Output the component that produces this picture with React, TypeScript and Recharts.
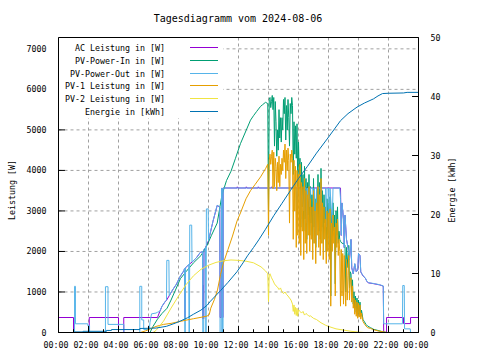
import React from "react";
import { LineChart, Line, XAxis, YAxis, CartesianGrid, ReferenceLine } from "recharts";

type Pt = [number, number];

const FONT = "'DejaVu Sans Mono', monospace";

const title = "Tagesdiagramm vom 2024-08-06";
const hourTicks = [0, 2, 4, 6, 8, 10, 12, 14, 16, 18, 20, 22, 24];
const hourMinor = [1, 3, 5, 7, 9, 11, 13, 15, 17, 19, 21, 23];
const powerTicks = [0, 1000, 2000, 3000, 4000, 5000, 6000, 7000];
const energyTicks = [0, 10, 20, 30, 40, 50];

// [hour, W]
const acPower: Pt[] = [
  [0, 370], [1.0, 370], [1.0, 0], [2.05, 0], [2.05, 370], [4.0, 370], [4.0, 0], [4.35, 0], [4.35, 370],
  [6.6, 370], [6.75, 515], [6.9, 645], [7.1, 755], [7.2, 795], [7.38, 905], [7.6, 1045], [7.87, 1195],
  [8.1, 1375], [8.36, 1525], [8.4, 1575], [8.42, 370], [8.45, 370], [8.47, 1595], [8.68, 1675], [8.9, 1735],
  [9.2, 1845], [9.45, 1975], [9.6, 1995], [9.62, 340], [9.65, 1170], [9.68, 340], [9.7, 2045], [9.8, 2095],
  [10.0, 2265], [10.3, 2745], [10.58, 3135], [10.75, 3095], [10.77, 370], [10.85, 370], [10.87, 3555],
  [10.92, 3555], [10.93, 370], [10.97, 370], [10.98, 3566], [11.9, 3566], [11.92, 3595], [11.96, 3566],
  [12.5, 3566], [12.52, 3595], [12.56, 3566], [13.3, 3566], [13.32, 3595], [13.36, 3566], [14.2, 3566],
  [14.22, 3595], [14.26, 3566], [18.8, 3566], [18.85, 2395], [18.9, 3195],
  [19.0, 2795], [19.05, 2095], [19.1, 2895], [19.2, 2295], [19.3, 2095], [19.4, 1795], [19.5, 2295],
  [19.55, 1595], [19.65, 1445], [19.75, 1695], [19.85, 1495], [19.95, 1545], [20.0, 1945], [20.1, 1895],
  [20.15, 1495], [20.3, 1395], [20.45, 1345], [20.55, 1265], [20.65, 1225], [21.0, 1205], [21.4, 1175],
  [21.65, 1145], [21.68, 0], [21.87, 0], [21.87, 370], [23.0, 370], [23.0, 220], [23.47, 220], [23.47, 370],
  [24, 370],
];

const pvPowerIn: Pt[] = [
  [0, 0], [6.1, 0], [6.3, 150], [6.6, 330], [6.9, 470], [7.24, 600], [7.5, 800], [7.8, 1050], [8.13, 1330],
  [8.5, 1500], [9.0, 1720], [9.5, 1900], [9.9, 2150], [10.2, 2400], [10.58, 2700], [10.9, 3400], [11.2, 3750],
  [11.5, 3980], [11.8, 4300], [12.13, 4660], [12.5, 4980], [12.8, 5240], [13.0, 5350], [13.2, 5450],
  [13.47, 5580], [13.6, 5620], [13.8, 5680], [13.95, 5650], [14.0, 3000], [14.05, 5750], [14.1, 5800],
  [14.15, 5550], [14.2, 5700], [14.25, 5850], [14.3, 5500], [14.35, 5800], [14.4, 4600], [14.45, 5700],
  [14.5, 5200], [14.55, 4350], [14.6, 5000], [14.65, 4500], [14.7, 5500], [14.75, 4800], [14.8, 5300],
  [14.85, 4700], [14.9, 5300], [14.95, 5000], [15.0, 5750], [15.05, 5400], [15.1, 5800], [15.15, 4750],
  [15.2, 5600], [15.25, 5000], [15.3, 5750], [15.35, 5300], [15.4, 4600], [15.45, 5650], [15.5, 5400],
  [15.55, 5800], [15.6, 5600], [15.65, 3900], [15.7, 5200], [15.75, 4400], [15.8, 5100], [15.85, 4300],
  [15.9, 5150], [15.95, 3600], [16.0, 4700], [16.05, 3900], [16.1, 4300], [16.15, 2600], [16.2, 4200],
  [16.25, 3100], [16.3, 3900], [16.35, 2500], [16.4, 4100], [16.45, 2800], [16.5, 3800], [16.55, 2300],
  [16.6, 3700], [16.65, 2900], [16.7, 3900], [16.75, 2400], [16.8, 3600], [16.85, 2700], [16.9, 3400],
  [16.95, 2200], [17.0, 3800], [17.05, 2600], [17.1, 3300], [17.15, 2100], [17.2, 3500], [17.25, 2800],
  [17.3, 3900], [17.35, 2500], [17.4, 3700], [17.45, 2300], [17.5, 4050], [17.55, 2600], [17.6, 3500],
  [17.65, 2200], [17.7, 3400], [17.75, 2700], [17.8, 3100], [17.85, 2000], [17.9, 3300], [17.95, 2400],
  [18.0, 3200], [18.05, 2100], [18.1, 3350], [18.15, 900], [18.2, 3000], [18.25, 2300], [18.3, 3200],
  [18.35, 2500], [18.4, 2900], [18.45, 1200], [18.5, 3000], [18.55, 2400], [18.6, 3100], [18.65, 2200],
  [18.7, 2500], [18.75, 2300], [18.8, 2250], [18.9, 2200], [19.0, 2200], [19.1, 2150], [19.15, 1000],
  [19.2, 2100], [19.3, 1600], [19.35, 2150], [19.4, 1100], [19.45, 1500], [19.5, 1450], [19.55, 1000],
  [19.6, 1300], [19.65, 700], [19.7, 1000], [19.75, 600], [19.8, 900], [19.85, 500], [19.9, 850],
  [19.95, 450], [20.0, 800], [20.05, 450], [20.1, 750], [20.15, 400], [20.2, 550], [20.3, 320], [20.4, 260],
  [20.5, 200], [20.6, 160], [20.8, 120], [21.0, 80], [21.3, 50], [21.6, 20], [21.9, 0], [24, 0],
];

const pvPowerOut: Pt[] = [
  [0, 0], [1.07, 0], [1.07, 1140], [1.13, 1140], [1.13, 215], [1.95, 215], [1.95, 170], [2.07, 170], [2.07, 0],
  [3.13, 0], [3.13, 1130], [3.3, 1130], [3.3, 200], [4.36, 200], [4.36, 0], [5.42, 0], [5.42, 1140],
  [5.55, 1140], [5.55, 310], [5.68, 310], [5.68, 75], [6.05, 75], [6.1, 250], [6.2, 460], [6.5, 480],
  [6.6, 500], [6.75, 520], [6.9, 650], [7.1, 760], [7.2, 800], [7.22, 1780], [7.36, 1780], [7.38, 910],
  [7.6, 1050], [7.87, 1200], [8.1, 1380], [8.36, 1530], [8.4, 1580], [8.42, 0], [8.45, 0], [8.47, 1600],
  [8.68, 1680], [8.7, 0], [8.73, 0], [8.75, 2650], [8.88, 2650], [8.9, 1740], [9.2, 1850], [9.45, 1980],
  [9.6, 2000], [9.62, 0], [9.68, 0], [9.7, 2050], [9.8, 2100], [9.82, 0], [9.84, 0], [9.86, 3050],
  [9.98, 3050], [10.0, 2270], [10.3, 2750], [10.58, 3140], [10.75, 3100], [10.77, 0], [10.85, 0],
  [10.87, 3560], [10.92, 3560], [10.93, 0], [10.97, 0], [10.98, 3566], [15.85, 3566], [15.9, 2900],
  [15.95, 3566], [16.1, 3566], [16.15, 2800], [16.2, 3566], [16.35, 3000], [16.4, 3566], [16.5, 3566],
  [16.55, 2700], [16.6, 3566], [16.75, 3100], [16.8, 3566], [16.95, 3566], [17.0, 3200], [17.05, 3566],
  [17.15, 2200], [17.2, 3566], [17.45, 3566], [17.5, 2500], [17.55, 3566], [17.8, 3566], [17.85, 2600],
  [17.9, 3566], [18.0, 3566], [18.05, 2200], [18.1, 3566], [18.25, 2700], [18.3, 3566], [18.75, 3566],
  [18.8, 3300], [18.85, 2400], [18.9, 3200], [19.0, 2800], [19.05, 2100], [19.1, 2900], [19.2, 2300],
  [19.3, 2100], [19.4, 1800], [19.5, 2300], [19.55, 1600], [19.65, 1450], [19.75, 1700], [19.85, 1500],
  [19.95, 1550], [20.0, 1950], [20.1, 1900], [20.15, 1500], [20.3, 1400], [20.45, 1350], [20.55, 1270],
  [20.65, 1230], [21.0, 1210], [21.4, 1180], [21.65, 1150], [21.68, 215], [22.93, 215], [22.95, 1160],
  [23.05, 1160], [23.07, 90], [23.45, 90], [23.47, 0], [24, 0],
];

const pv1Power: Pt[] = [
  [0, 0], [5.45, 0], [5.8, 40], [6.13, 90], [6.5, 150], [7.0, 200], [7.5, 225], [8.0, 265], [8.5, 305],
  [9.0, 340], [9.5, 375], [9.9, 405], [10.05, 440], [10.15, 600], [10.4, 820], [10.6, 1050], [10.8, 1430],
  [11.0, 1720], [11.3, 2050], [11.6, 2380], [11.9, 2750], [12.13, 2950], [12.5, 3300], [12.8, 3500],
  [13.1, 3650], [13.47, 3840], [13.8, 4040], [13.95, 4150], [14.0, 2400], [14.05, 4250], [14.1, 4400],
  [14.15, 4150], [14.2, 4350], [14.25, 4500], [14.3, 3550], [14.35, 4450], [14.4, 3600], [14.45, 4300],
  [14.5, 4100], [14.55, 3500], [14.6, 4200], [14.65, 3700], [14.7, 4350], [14.75, 3600], [14.8, 4150],
  [14.85, 3900], [14.9, 4300], [14.95, 4000], [15.0, 4500], [15.05, 4200], [15.1, 4650], [15.15, 3800],
  [15.2, 4500], [15.25, 4000], [15.3, 4550], [15.35, 4250], [15.4, 2700], [15.45, 4400], [15.5, 4200],
  [15.55, 4500], [15.6, 4300], [15.65, 2300], [15.7, 4250], [15.75, 3000], [15.8, 4100], [15.85, 2100],
  [15.9, 4000], [15.95, 2400], [16.0, 3900], [16.05, 2200], [16.1, 4150], [16.15, 1900], [16.2, 3700],
  [16.25, 2500], [16.3, 3600], [16.35, 1800], [16.4, 3800], [16.45, 2200], [16.5, 3500], [16.55, 1950],
  [16.6, 3400], [16.65, 2400], [16.7, 3600], [16.75, 2000], [16.8, 3300], [16.85, 2300], [16.9, 3100],
  [16.95, 1800], [17.0, 3500], [17.05, 2200], [17.1, 3000], [17.15, 1700], [17.2, 3200], [17.25, 2400],
  [17.3, 3600], [17.35, 2100], [17.4, 3400], [17.45, 1900], [17.5, 3800], [17.55, 2200], [17.6, 3200],
  [17.65, 1800], [17.7, 3100], [17.75, 2300], [17.8, 2800], [17.85, 1700], [17.9, 3000], [17.95, 2000],
  [18.0, 2950], [18.05, 1800], [18.1, 3050], [18.15, 650], [18.2, 2700], [18.25, 2000], [18.3, 2900],
  [18.35, 2200], [18.4, 2600], [18.45, 900], [18.5, 2700], [18.55, 2100], [18.6, 2800], [18.65, 1900],
  [18.7, 2300], [18.75, 2000], [18.8, 650], [18.85, 2050], [18.9, 900], [18.95, 1950], [19.0, 700],
  [19.05, 1900], [19.1, 1100], [19.15, 650], [19.2, 1800], [19.25, 800], [19.3, 1400], [19.35, 1900],
  [19.4, 800], [19.45, 1300], [19.5, 1350], [19.55, 750], [19.6, 1150], [19.65, 600], [19.7, 850],
  [19.75, 450], [19.8, 800], [19.85, 400], [19.9, 750], [19.95, 350], [20.0, 720], [20.05, 380],
  [20.1, 680], [20.15, 330], [20.2, 480], [20.3, 270], [20.4, 210], [20.5, 160], [20.6, 120], [20.8, 100],
  [21.0, 70], [21.3, 40], [21.6, 20], [21.9, 0], [24, 0],
];

const pv2Power: Pt[] = [
  [0, 0], [6.3, 0], [6.5, 50], [7.0, 280], [7.5, 600], [8.0, 900], [8.5, 1180], [9.0, 1400], [9.5, 1560],
  [10.0, 1660], [10.5, 1730], [11.0, 1770], [11.5, 1790], [12.0, 1780], [12.5, 1760], [13.0, 1720],
  [13.5, 1620], [13.8, 1520], [13.95, 1450], [14.0, 760], [14.05, 1420], [14.1, 1450], [14.2, 1350],
  [14.3, 1280], [14.4, 1200], [14.5, 1150], [14.6, 1120], [14.7, 1060], [14.8, 1100], [14.9, 1000],
  [15.0, 960], [15.1, 1000], [15.2, 940], [15.3, 900], [15.4, 850], [15.5, 800], [15.6, 700], [15.65, 520],
  [15.7, 680], [15.75, 450], [15.8, 620], [15.85, 420], [15.9, 600], [15.95, 400], [16.0, 560], [16.1, 520],
  [16.2, 480], [16.3, 520], [16.4, 430], [16.5, 470], [16.6, 440], [16.7, 400], [16.8, 410], [17.0, 350],
  [17.2, 320], [17.5, 240], [17.8, 180], [18.0, 150], [18.5, 90], [19.0, 60], [19.5, 30], [20.0, 10],
  [20.4, 0], [24, 0],
];

// [hour, kWh]
const energy: Pt[] = [
  [0, 0], [1.07, 0], [1.07, 0.1], [1.64, 0.1], [1.64, 0.2], [3.2, 0.2], [3.2, 0.35], [3.53, 0.35],
  [3.53, 0.5], [5.42, 0.5], [5.42, 0.68], [6.5, 0.75], [7.2, 1.05], [7.8, 1.6], [8.13, 1.95], [8.6, 2.5],
  [9.0, 3.1], [9.5, 3.8], [9.9, 4.6], [10.13, 5.3], [10.8, 7.1], [11.3, 8.5], [11.9, 10.3], [12.3, 11.8],
  [12.6, 13.0], [13.0, 14.4], [13.35, 15.7], [13.8, 17.5], [14.35, 19.8], [14.9, 21.9], [15.47, 24.1],
  [16.0, 26.1], [16.58, 28.1], [17.2, 30.4], [17.91, 32.8], [18.4, 34.5], [18.8, 35.9], [19.3, 37.1],
  [19.9, 38.2], [20.4, 38.9], [21.0, 39.6], [21.3, 40.1], [21.6, 40.5], [22.0, 40.55], [23.0, 40.6],
  [23.24, 40.7], [24, 40.7],
];

const series = [
  { name: "AC Leistung in [W]", color: "#9400d3", points: acPower, axis: "left" },
  { name: "PV-Power-In in [W]", color: "#009e73", points: pvPowerIn, axis: "left" },
  { name: "PV-Power-Out in [W]", color: "#56b4e9", points: pvPowerOut, axis: "left" },
  { name: "PV-1 Leistung in [W]", color: "#e69f00", points: pv1Power, axis: "left" },
  { name: "PV-2 Leistung in [W]", color: "#f0e442", points: pv2Power, axis: "left" },
  { name: "Energie in [kWh]", color: "#0072b2", points: energy, axis: "right" },
];

const toRows = (pts: Pt[]) => pts.map(([t, v]) => ({ t, v }));

const fmtHour = (h: number) => `${String(h % 24).padStart(2, "0")}:00`;

const XTick = (p: any) => (
  <text x={p.x - 2.5} y={p.y + 15} textAnchor="middle" fontSize={8.3} fontFamily={FONT} fill="#000">
    {fmtHour(p.payload.value)}
  </text>
);

const LeftTick = (p: any) => (
  <text x={p.x - 12} y={p.y + 3} textAnchor="end" fontSize={8.3} fontFamily={FONT} fill="#000">
    {p.payload.value}
  </text>
);

const RightTick = (p: any) => (
  <text x={p.x + 12} y={p.y + 3} textAnchor="start" fontSize={8.3} fontFamily={FONT} fill="#000">
    {p.payload.value}
  </text>
);

export default function App() {
  return (
    <div style={{ position: "absolute", left: 0, top: 0, width: 480, height: 360, background: "#fff" }}>
      <LineChart width={480} height={360} margin={{ top: 37.5, right: 21.5, bottom: 7.5, left: 8.5 }}>
        <CartesianGrid yAxisId="left" stroke="#a0a0a0" strokeDasharray="3 3" />
        <XAxis
          type="number" dataKey="t" domain={[0, 24]} ticks={hourTicks} interval={0}
          height={20} tickSize={0} tickMargin={0} tickLine={false}
          axisLine={{ stroke: "#000" }} tick={(p: any) => <XTick {...p} />}
        />
        <YAxis
          yAxisId="left" type="number" domain={[0, 7280]} ticks={powerTicks} interval={0}
          width={50} tickSize={0} tickMargin={0} tickLine={false}
          axisLine={{ stroke: "#000" }} tick={(p: any) => <LeftTick {...p} />}
        />
        <YAxis
          yAxisId="right" orientation="right" type="number" domain={[0, 50]} ticks={energyTicks} interval={0}
          width={40} tickSize={0} tickMargin={0} tickLine={false}
          axisLine={{ stroke: "#000" }} tick={(p: any) => <RightTick {...p} />}
        />
        {series.map((s) => (
          <Line
            key={s.name} name={s.name} yAxisId={s.axis} data={toRows(s.points)} dataKey="v"
            type="linear" stroke={s.color} strokeWidth={1} dot={false} activeDot={false}
            isAnimationActive={false}
          />
        ))}
        <ReferenceLine yAxisId="left" y={7280} stroke="#000" />
        {hourTicks.concat(hourMinor).map((h) => (
          <ReferenceLine
            key={"xt" + h} yAxisId="left" stroke="#000"
            segment={[{ x: h, y: 0 }, { x: h, y: hourMinor.includes(h) ? 80 : 160 }]}
          />
        ))}
        {powerTicks.map((w) => (
          <ReferenceLine key={"yt" + w} yAxisId="left" stroke="#000" segment={[{ x: 0, y: w }, { x: 0.43, y: w }]} />
        ))}
        {energyTicks.map((e) => (
          <ReferenceLine key={"y2t" + e} yAxisId="right" stroke="#000" segment={[{ x: 24, y: e }, { x: 23.57, y: e }]} />
        ))}
      </LineChart>
      <svg width={480} height={360} style={{ position: "absolute", left: 0, top: 0, pointerEvents: "none" }}>
        <text x={238} y={22} textAnchor="middle" fontSize={10} fontFamily={FONT} fill="#000">{title}</text>
        <text transform="translate(15,190) rotate(-90)" textAnchor="middle" fontSize={8.3} fontFamily={FONT} fill="#000">
          Leistung [W]
        </text>
        <text transform="translate(455,190) rotate(-90)" textAnchor="middle" fontSize={8.3} fontFamily={FONT} fill="#000">
          Energie [kWh]
        </text>
        <rect x={59} y={38} width={164} height={80} fill="#fff" />
        {series.map((s, i) => {
          const y = Math.round(47 + i * 12.8) + 0.5;
          return (
            <g key={s.name}>
              <text x={165} y={y + 3} textAnchor="end" fontSize={8.3} fontFamily={FONT} fill="#000">{s.name}</text>
              <line x1={190} x2={218} y1={y} y2={y} stroke={s.color} strokeWidth={1} />
            </g>
          );
        })}
      </svg>
    </div>
  );
}
